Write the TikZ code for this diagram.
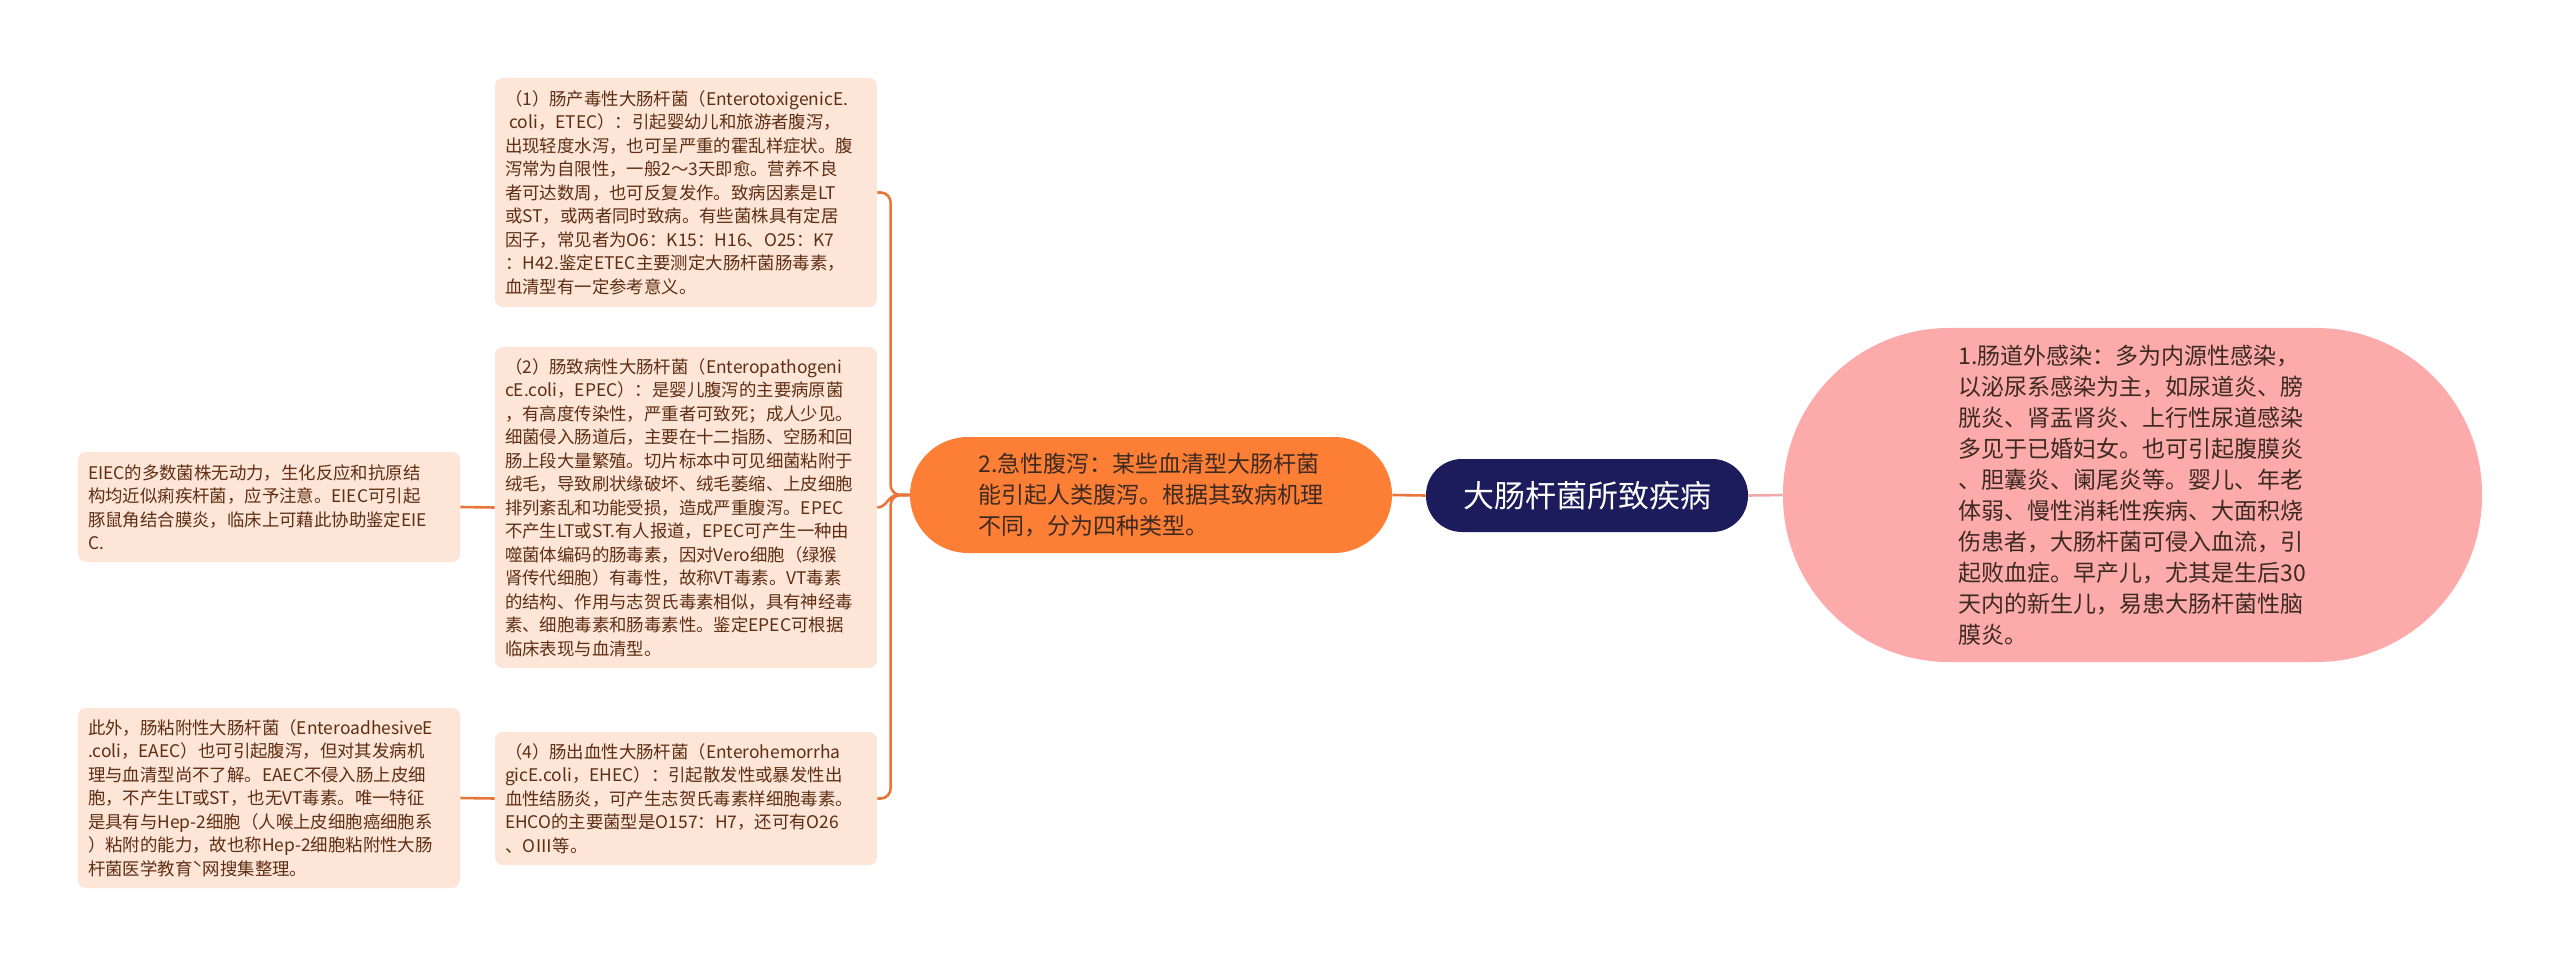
\documentclass[tikz,border=0pt]{standalone}
\usepackage{fontspec}
\setmainfont{Noto Sans CJK SC}
\usepackage{xcolor}
\usepackage{tikz}

\definecolor{rootblue}{HTML}{1C1B5B}
\definecolor{branchorange}{HTML}{FC7F35}
\definecolor{outerpink}{HTML}{FCAAAA}
\definecolor{leaffill}{HTML}{FDE5D8}
\definecolor{leaftext}{HTML}{5E2E12}
\definecolor{bodytext}{HTML}{3C2A22}
\definecolor{linkorange}{HTML}{E8763A}
\definecolor{linkpink}{HTML}{F2A9A9}

\begin{document}
\begin{tikzpicture}[x=0.5pt, y=-0.5pt, inner sep=0pt,
    rootnode/.style={fill=rootblue, text=white, rounded corners=18pt,
      minimum width=161pt, minimum height=36.5pt, font=\fontsize{15.5}{18}\selectfont},
    branchnode/.style={fill=branchorange, text=bodytext, rounded corners=29pt, align=left,
      minimum width=241pt, minimum height=58pt, font=\fontsize{11.5}{15.5}\selectfont},
    outernode/.style={fill=outerpink, text=bodytext, rounded corners=83pt, align=left,
      minimum width=349.5pt, minimum height=167pt, font=\fontsize{11.5}{15.5}\selectfont},
    leafbox/.style={fill=leaffill, text=leaftext, rounded corners=4pt, align=left,
      text width=181pt, inner xsep=5pt, font=\fontsize{8.7}{11.75}\selectfont},
    orangeline/.style={draw=linkorange, line width=1.3pt},
    pinkline/.style={draw=linkpink, line width=1.3pt}]

  \fill[white] (0,0) rectangle (2560,968);
  \useasboundingbox (0,0) rectangle (2560,968);

  % centre and first level
  \node[rootnode] (ecoli) at (1587,495.5) {大肠杆菌所致疾病};
  \node[branchnode] (diarrhea) at (1151,495) {2.急性腹泻：某些血清型大肠杆菌\\能引起人类腹泻。根据其致病机理\\不同，分为四种类型。};
  \node[outernode] (extra) at (2132.5,495) {1.肠道外感染：多为内源性感染，\\以泌尿系感染为主，如尿道炎、膀\\胱炎、肾盂肾炎、上行性尿道感染\\多见于已婚妇女。也可引起腹膜炎\\、胆囊炎、阑尾炎等。婴儿、年老\\体弱、慢性消耗性疾病、大面积烧\\伤患者，大肠杆菌可侵入血流，引\\起败血症。早产儿，尤其是生后30\\天内的新生儿，易患大肠杆菌性脑\\膜炎。};

  % four types
  \node[leafbox, minimum height=114.5pt] (etec) at (686,192.5) {（1）肠产毒性大肠杆菌（EnterotoxigenicE.\\\hspace*{0.25em}coli，ETEC）：引起婴幼儿和旅游者腹泻，\\出现轻度水泻，也可呈严重的霍乱样症状。腹\\泻常为自限性，一般2～3天即愈。营养不良\\者可达数周，也可反复发作。致病因素是LT\\或ST，或两者同时致病。有些菌株具有定居\\因子，常见者为O6：K15：H16、O25：K7\\：H42.鉴定ETEC主要测定大肠杆菌肠毒素，\\血清型有一定参考意义。};
  \node[leafbox, minimum height=160.5pt] (epec) at (686,507.5) {（2）肠致病性大肠杆菌（Enteropathogeni\\cE.coli，EPEC）：是婴儿腹泻的主要病原菌\\，有高度传染性，严重者可致死；成人少见。\\细菌侵入肠道后，主要在十二指肠、空肠和回\\肠上段大量繁殖。切片标本中可见细菌粘附于\\绒毛，导致刷状缘破坏、绒毛萎缩、上皮细胞\\排列紊乱和功能受损，造成严重腹泻。EPEC\\不产生LT或ST.有人报道，EPEC可产生一种由\\噬菌体编码的肠毒素，因对Vero细胞（绿猴\\肾传代细胞）有毒性，故称VT毒素。VT毒素\\的结构、作用与志贺氏毒素相似，具有神经毒\\素、细胞毒素和肠毒素性。鉴定EPEC可根据\\临床表现与血清型。};
  \node[leafbox, minimum height=66.5pt] (ehec) at (686,798.5) {（4）肠出血性大肠杆菌（Enterohemorrha\\gicE.coli，EHEC）：引起散发性或暴发性出\\血性结肠炎，可产生志贺氏毒素样细胞毒素。\\EHCO的主要菌型是O157：H7，还可有O26\\、OⅢ等。};

  % notes
  \node[leafbox, minimum height=55pt] (eiec) at (269,507) {EIEC的多数菌株无动力，生化反应和抗原结\\构均近似痢疾杆菌，应予注意。EIEC可引起\\豚鼠角结合膜炎，临床上可藉此协助鉴定EIE\\C.};
  \node[leafbox, minimum height=90pt] (eaec) at (269,798) {此外，肠粘附性大肠杆菌（EnteroadhesiveE\\.coli，EAEC）也可引起腹泻，但对其发病机\\理与血清型尚不了解。EAEC不侵入肠上皮细\\胞，不产生LT或ST，也无VT毒素。唯一特征\\是具有与Hep-2细胞（人喉上皮细胞癌细胞系\\）粘附的能力，故也称Hep-2细胞粘附性大肠\\杆菌医学教育ˋ网搜集整理。};

  \draw[orangeline] (ecoli.west) -- (diarrhea.east);
  \draw[pinkline] (ecoli.east) -- (extra.west);
  \draw[orangeline, rounded corners=5pt] (diarrhea.west) -- ++(-19,0) |- (etec.east);
  \draw[orangeline] (diarrhea.west) -- ++(-12,0) to[out=180, in=0] (epec.east);
  \draw[orangeline, rounded corners=5pt] (diarrhea.west) -- ++(-19,0) |- (ehec.east);
  \draw[orangeline] (epec.west) -- (eiec.east);
  \draw[orangeline] (ehec.west) -- (eaec.east);
\end{tikzpicture}
\end{document}
